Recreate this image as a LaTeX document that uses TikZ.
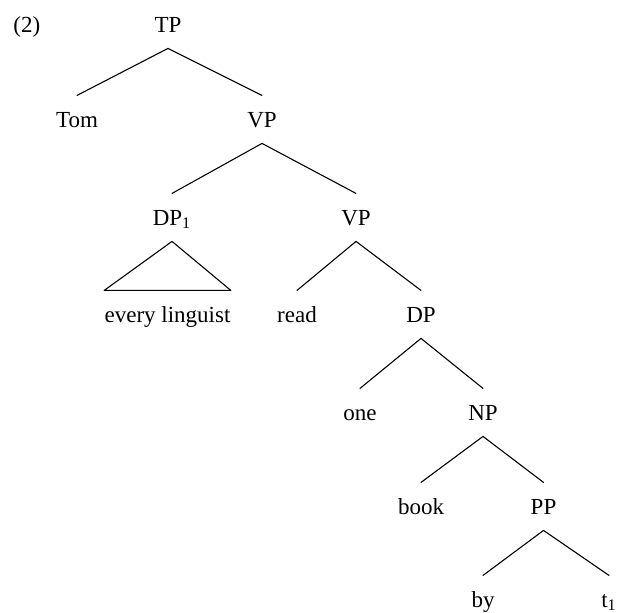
\documentclass[tikz,border=0pt]{standalone}
\usepackage{fontspec}
\setmainfont{Liberation Serif}
\begin{document}
\begin{tikzpicture}[x=0.5pt, y=-0.5pt, line join=round, line cap=round,
  font=\fontsize{11.5}{13}\selectfont,
  cat/.style={anchor=base, inner xsep=0pt, inner ysep=8pt, text height=7.6pt, text depth=0pt},
  branch/.style={line width=0.55pt}]
% Baselines of the rows
\def\rA{32}
\def\rB{127}
\def\rC{225}
\def\rD{322}
\def\rE{420}
\def\rF{514}
\def\rG{607}
\useasboundingbox (0,0) rectangle (619,612);
% Example number
\node[cat, anchor=base west] (ex) at (13,\rA) {(2)};
% Categories and words
\node[cat] (TP) at (168,\rA) {TP};
\node[cat] (Tom) at (77,\rB) {Tom};
\node[cat] (VPa) at (262,\rB) {VP};
\node[cat] (DPa) at (172,\rC) {DP\textsubscript{1}};
\node[cat] (VPb) at (356,\rC) {VP};
\node[cat] (EL) at (167.5,\rD) {every linguist};
\node[cat] (read) at (297,\rD) {read};
\node[cat] (DPb) at (421,\rD) {DP};
\node[cat] (one) at (360,\rE) {one};
\node[cat] (NP) at (483,\rE) {NP};
\node[cat] (book) at (421,\rF) {book};
\node[cat] (PP) at (543.5,\rF) {PP};
\node[cat] (by) at (483,\rG) {by};
\node[cat] (t) at (609,\rG) {t\textsubscript{1}};
% Branches
\draw[branch] (TP.south) -- (Tom.north);
\draw[branch] (TP.south) -- (VPa.north);
\draw[branch] (VPa.south) -- (DPa.north);
\draw[branch] (VPa.south) -- (VPb.north);
\draw[branch] (VPb.south) -- (read.north);
\draw[branch] (VPb.south) -- (DPb.north);
\draw[branch] (DPb.south) -- (one.north);
\draw[branch] (DPb.south) -- (NP.north);
\draw[branch] (NP.south) -- (book.north);
\draw[branch] (NP.south) -- (PP.north);
\draw[branch] (PP.south) -- (by.north);
\draw[branch] (PP.south) -- (t.north);
% Triangle over the quantifier phrase
\draw[branch] (DPa.south) -- (EL.north west) -- (EL.north east) -- cycle;
\end{tikzpicture}
\end{document}
